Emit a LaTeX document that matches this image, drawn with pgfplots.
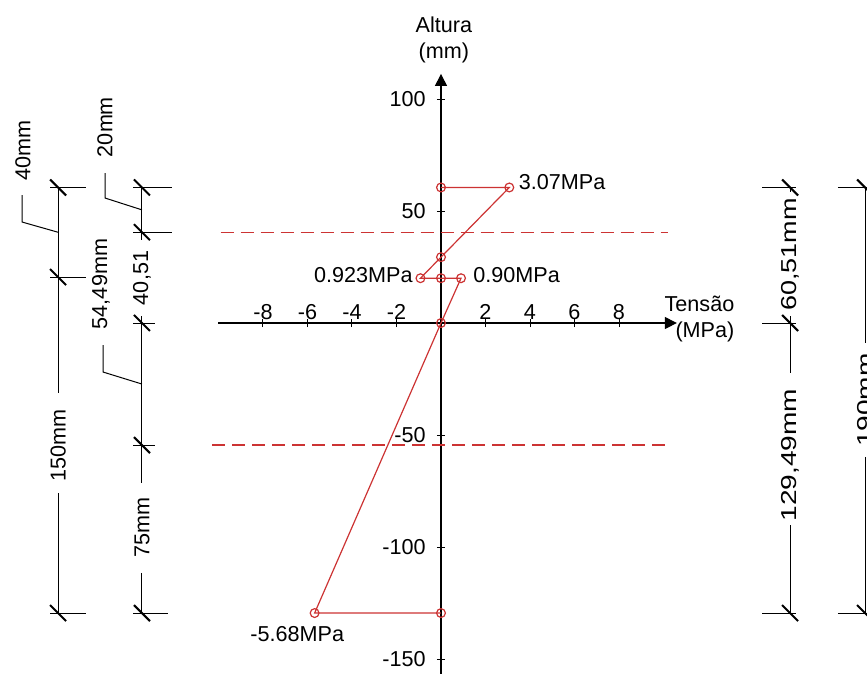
\documentclass[border=0pt]{standalone}
\usepackage{fontspec}
\setmainfont{Liberation Sans}
\usepackage{pgfplots}
\pgfplotsset{compat=1.18}
\usetikzlibrary{arrows.meta}
\definecolor{dred}{RGB}{204,51,51}
\pgfdeclareplotmark{dimtick}{\pgfpathmoveto{\pgfqpoint{-4pt}{4pt}}\pgfpathlineto{\pgfqpoint{4pt}{-4pt}}\pgfusepathqstroke}
\newcommand{\fs}{\fontsize{10.8}{13}\selectfont}
\newcommand{\seg}[4]{\addplot[black, line width=0.5pt, forget plot] coordinates {(#1,#2) (#3,#4)};}
\begin{document}
\begin{tikzpicture}
\begin{axis}[
  x=11.125pt, y=1.12pt,
  axis lines=middle, clip=false, enlargelimits=false,
  xmin=-10, xmax=10.6, ymin=-157, ymax=111.2,
  axis line style={black, line width=0.6pt, -{Triangle[length=6pt,width=6pt]}},
  tick style={black, line width=0.5pt}, tick align=center, major tick length=4pt,
  xtick={-8,-6,-4,-2,2,4,6,8},
  xticklabels={-8,-6,-4,-2,2,4,6,8},
  ytick={-150,-100,-50,50,100},
  yticklabels={-150,-100,-50,50,100},
  xticklabel style={anchor=base, inner sep=0pt, yshift=4pt, font=\fs},
  yticklabel style={anchor=east, inner sep=0pt, xshift=-5.5pt, font=\fs},
]
% bounding box corners (image frame)
\coordinate (BL) at (axis cs:-19.82,-156.25);
\coordinate (TR) at (axis cs:19.146,144.2);

% dashed reference lines
\addplot[dred, line width=0.6pt, dash pattern=on 6.5pt off 3.5pt] coordinates {(-9.9,40.51) (10.2,40.51)};
\addplot[dred, line width=0.6pt, dash pattern=on 6.5pt off 3.5pt] coordinates {(-10.29,-54.49) (10.2,-54.49)};

% stress diagram
\addplot[dred, line width=0.6pt, mark=o, mark size=2.2pt, mark options={solid, dred}] coordinates {
  (0,60.51) (3.07,60.51) (0,29.4) (-0.923,20) (0,20) (0.90,20) (0,0) (-5.68,-129.49) (0,-129.49)};

% value labels
\node[font=\fs, anchor=base west, inner sep=0pt] at (axis cs:3.48,59.4) {3.07MPa};
\node[font=\fs, anchor=base east, inner sep=0pt] at (axis cs:-1.258,18.3) {0.923MPa};
\node[font=\fs, anchor=base west, inner sep=0pt] at (axis cs:1.438,18.3) {0.90MPa};
\node[font=\fs, anchor=base west, inner sep=0pt] at (axis cs:-8.584,-142.4) {-5.68MPa};

% axis titles
\node[font=\fs, align=center, inner sep=0pt] at (axis cs:0.13,126.3) {Altura\\(mm)};
\node[font=\fs, align=right, anchor=east, inner sep=0pt] at (axis cs:13.2,1.8) {Tensão\\(MPa)};

% ---- dimension column 1 (x=-17.21)
\seg{-17.21}{60.51}{-17.21}{-31.25}
\seg{-17.21}{-75.9}{-17.21}{-129.49}
\seg{-17.57}{60.51}{-15.96}{60.51}
\seg{-17.57}{20.51}{-15.96}{20.51}
\seg{-17.57}{-129.49}{-15.96}{-129.49}
\addplot[black, line width=0.5pt, forget plot] coordinates {(-18.83,57.14) (-18.83,45.09) (-17.21,40.51)};
\node[font=\fs, rotate=90, inner sep=0pt] at (axis cs:-18.79,77.23) {40mm};
\node[font=\fs, rotate=90, inner sep=0pt] at (axis cs:-17.21,-54.49) {150mm};

% ---- dimension column 2 (x=-13.44)
\seg{-13.44}{60.51}{-13.44}{37}
\seg{-13.44}{3.1}{-13.44}{-71.4}
\seg{-13.44}{-111.6}{-13.44}{-129.49}
\seg{-13.84}{60.51}{-12.09}{60.51}
\seg{-13.84}{40.51}{-12.09}{40.51}
\seg{-13.84}{0}{-12.85}{0}
\seg{-13.84}{-54.49}{-12.85}{-54.49}
\seg{-13.84}{-129.49}{-12.27}{-129.49}
\addplot[black, line width=0.5pt, forget plot] coordinates {(-15.10,66.96) (-15.10,55.80) (-13.44,50.51)};
\addplot[black, line width=0.5pt, forget plot] coordinates {(-15.19,-9.82) (-15.19,-21.88) (-13.44,-27.245)};
\node[font=\fs, rotate=90, inner sep=0pt] at (axis cs:-15.10,87.5) {20mm};
\node[font=\fs, rotate=90, inner sep=0pt] at (axis cs:-15.28,17.41) {54,49mm};
\node[font=\fs, rotate=90, inner sep=0pt] at (axis cs:-13.44,20.1) {40,51};
\node[font=\fs, rotate=90, inner sep=0pt] at (axis cs:-13.44,-91.5) {75mm};

% ---- dimension column 3 (x=15.69)
\seg{15.69}{60.51}{15.69}{58.5}
\seg{15.69}{3.1}{15.69}{-22.3}
\seg{15.69}{-90.2}{15.69}{-129.49}
\seg{14.43}{60.51}{15.96}{60.51}
\seg{14.43}{0}{15.96}{0}
\seg{14.43}{-129.49}{15.96}{-129.49}
\node[font=\fs, rotate=90, inner sep=0pt] at (axis cs:15.69,30.5) {\scalebox{1.25}[1]{60,51mm}};
\node[font=\fs, rotate=90, inner sep=0pt] at (axis cs:15.69,-59) {\scalebox{1.3}[1]{129,49mm}};

% ---- dimension column 4 (x=19.06)
\seg{19.06}{60.51}{19.06}{-8.9}
\seg{19.06}{-59.8}{19.06}{-129.49}
\seg{17.84}{60.51}{19.6}{60.51}
\seg{17.84}{-129.49}{19.6}{-129.49}
\node[font=\fs, rotate=90, inner sep=0pt] at (axis cs:19.06,-34.4) {\scalebox{1.3}[1]{190mm}};

% slash ticks
\addplot[black, only marks, mark=dimtick, mark options={line width=1pt}, forget plot] coordinates {
  (-17.21,60.51) (-17.21,20.51) (-17.21,-129.49)
  (-13.44,60.51) (-13.44,40.51) (-13.44,0) (-13.44,-54.49) (-13.44,-129.49)
  (15.69,60.51) (15.69,0) (15.69,-129.49)
  (19.06,60.51) (19.06,-129.49)};
\end{axis}
\pgfresetboundingbox
\path[use as bounding box] (BL) rectangle (TR);
\end{tikzpicture}
\end{document}
